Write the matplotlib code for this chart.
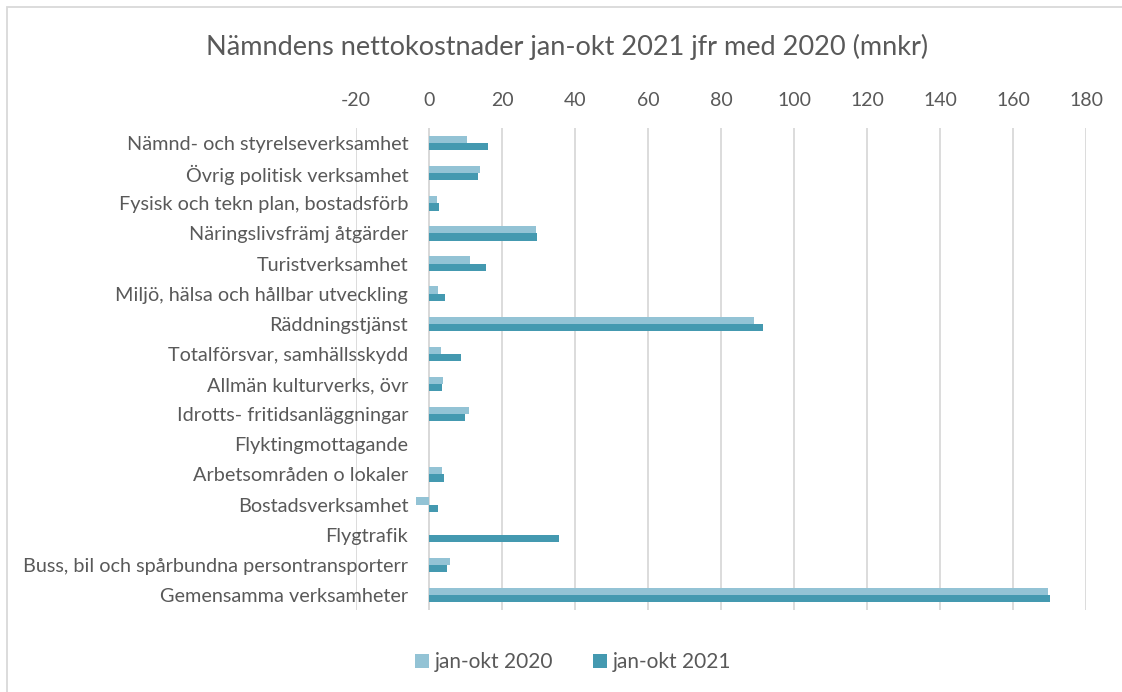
import matplotlib
matplotlib.use("Agg")
import matplotlib.pyplot as plt
import matplotlib.patches as patches
import numpy as np

plt.rcParams["font.family"] = ["Lato", "DejaVu Sans"]
plt.rcParams["axes.unicode_minus"] = False

categories = [
    "Nämnd- och styrelseverksamhet",
    "Övrig politisk verksamhet",
    "Fysisk och tekn plan, bostadsförb",
    "Näringslivsfrämj åtgärder",
    "Turistverksamhet",
    "Miljö, hälsa och hållbar utveckling",
    "Räddningstjänst",
    "Totalförsvar, samhällsskydd",
    "Allmän kulturverks, övr",
    "Idrotts- fritidsanläggningar",
    "Flyktingmottagande",
    "Arbetsområden o lokaler",
    "Bostadsverksamhet",
    "Flygtrafik",
    "Buss, bil och spårbundna persontransporterr",
    "Gemensamma verksamheter",
]
jan_okt_2020 = [10.4, 14.1, 2.2, 29.4, 11.1, 2.4, 89.1, 3.3, 3.9, 10.9, 0.0, 3.6, -3.6, 0.0, 5.7, 169.7]
jan_okt_2021 = [16.2, 13.5, 2.8, 29.7, 15.7, 4.4, 91.6, 8.7, 3.5, 9.8, 0.0, 4.1, 2.4, 35.6, 5.0, 170.1]
x_ticks = list(range(-20, 181, 20))

c2020 = "#93C3D5"
c2021 = "#4499B0"
txt = "#595959"

fig = plt.figure(figsize=(11.22, 6.92), dpi=100)
ax = fig.add_axes([0.3173, 0.1185, 0.6507, 0.6965])

y = np.arange(len(categories))
h = 0.24
ax.barh(y - h / 2, jan_okt_2020, height=h, color=c2020, label="jan-okt 2020", zorder=3)
ax.barh(y + h / 2, jan_okt_2021, height=h, color=c2021, label="jan-okt 2021", zorder=3)

ax.set_xlim(-20, 180)
ax.set_ylim(len(categories) - 0.5, -0.5)
ax.set_xticks(x_ticks)
ax.xaxis.tick_top()
ax.tick_params(axis="x", length=0, pad=14, labelsize=14, colors=txt)
ax.grid(axis="x", color="#D9D9D9", linewidth=1.3, zorder=0)

ax.set_yticks(y)
ax.set_yticklabels(categories)
ax.spines["left"].set_position(("data", 0))
ax.tick_params(axis="y", length=0, pad=15, labelsize=14.3, colors=txt)
for s in ["top", "right", "bottom", "left"]:
    ax.spines[s].set_visible(False)
ax.axvline(0, color="#D9D9D9", linewidth=1.3, zorder=1)

fig.text(0.505, 0.932, "Nämndens nettokostnader jan-okt 2021 jfr med 2020 (mnkr)",
         ha="center", va="center", fontsize=19.5, color=txt)

fig.legend(loc="center", bbox_to_anchor=(0.511, 0.0434), ncol=2, frameon=False,
           fontsize=15, handlelength=0.65, handleheight=0.65, handletextpad=0.3,
           columnspacing=1.9, labelcolor=txt)

fig.patches.append(patches.Rectangle((7 / 1122, -0.1), 1.2, 1 - 7 / 692 + 0.1,
                                     transform=fig.transFigure, fill=False,
                                     edgecolor="#D9D9D9", linewidth=1.3))

fig.savefig("out.png", dpi=100, facecolor="white")
